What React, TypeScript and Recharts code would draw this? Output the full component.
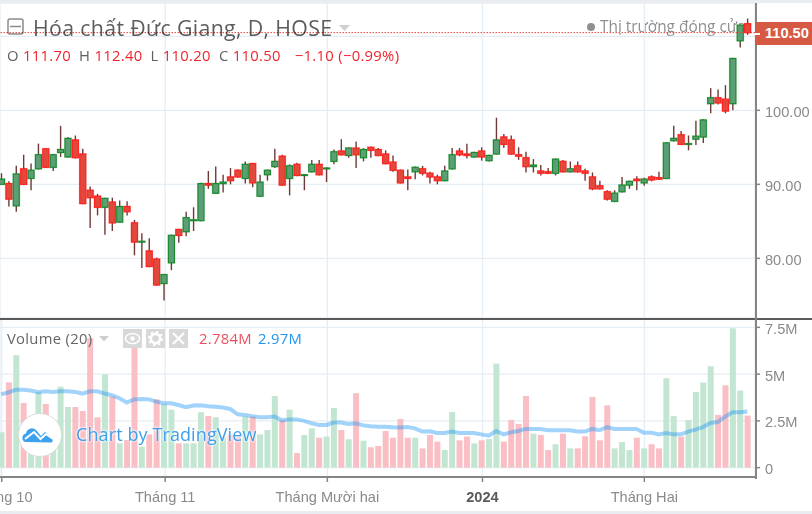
import { Bar, CartesianGrid, ComposedChart, Line, ReferenceLine, XAxis, YAxis } from "recharts";

const opens = [
  90.0, 90.1, 87.1, 92.1, 90.8, 92.1, 94.8, 92.3, 94.3, 93.7, 96.0, 94.1, 89.2, 88.4, 86.9, 87.6, 84.9, 87.0, 84.8, 82.2,
  81.0, 79.9, 76.6, 79.4, 83.9, 83.6, 85.1, 85.1, 90.1, 88.8, 90.1, 91.0, 91.9, 90.8, 92.8, 88.4, 91.3, 92.4, 93.8, 90.8,
  92.7, 91.2, 91.7, 92.7, 92.1, 93.1, 94.5, 93.9, 94.9, 93.6, 95.0, 94.7, 94.1, 93.0, 91.9, 91.0, 91.7, 92.1, 91.5, 91.0,
  90.5, 92.1, 94.5, 94.1, 93.7, 94.5, 93.2, 94.1, 96.4, 96.0, 94.0, 93.6, 92.4, 91.8, 91.7, 91.5, 93.1, 91.7, 92.5, 91.8,
  91.0, 89.8, 89.0, 87.7, 89.0, 89.9, 90.7, 90.2, 91.0, 90.9, 90.8, 95.9, 96.7, 95.4, 96.1, 96.4, 100.9, 101.7, 101.5, 100.9,
  109.4, 111.7,
];
const highs = [
  91.5, 90.4, 92.5, 94.0, 92.8, 95.5, 94.9, 94.1, 97.9, 96.4, 96.6, 94.8, 89.7, 88.7, 88.2, 88.2, 87.8, 87.7, 85.2, 83.4,
  82.7, 80.1, 77.9, 83.2, 84.0, 86.3, 86.9, 90.2, 91.8, 92.4, 91.3, 92.2, 92.0, 93.1, 92.9, 91.3, 92.0, 94.8, 94.0, 92.7,
  92.9, 91.4, 93.3, 93.3, 92.3, 94.7, 96.1, 95.0, 95.8, 94.9, 95.1, 94.9, 94.6, 93.9, 92.0, 92.0, 92.4, 92.5, 91.7, 91.3,
  92.5, 94.9, 94.9, 95.5, 94.4, 95.0, 94.0, 99.0, 96.8, 96.6, 95.0, 94.4, 93.4, 92.6, 92.2, 93.5, 93.3, 93.1, 93.1, 92.1,
  91.6, 90.5, 89.2, 89.2, 91.0, 90.5, 91.1, 90.9, 91.2, 91.7, 95.7, 97.9, 97.2, 96.6, 98.6, 98.8, 103.0, 102.8, 103.4, 107.1,
  111.6, 112.4,
];
const lows = [
  90.0, 87.0, 86.3, 89.9, 89.2, 92.0, 92.2, 91.8, 93.7, 93.6, 93.5, 87.3, 84.1, 85.8, 83.2, 83.7, 84.8, 85.8, 80.4, 78.7,
  78.8, 76.3, 74.3, 78.4, 82.1, 83.0, 83.7, 85.0, 89.4, 88.7, 88.9, 90.0, 90.9, 90.1, 89.6, 88.3, 90.5, 92.2, 89.8, 88.5,
  91.1, 89.2, 91.6, 91.2, 90.3, 92.7, 93.9, 93.6, 92.2, 93.1, 93.6, 93.8, 92.7, 91.7, 90.1, 89.2, 90.7, 91.2, 90.1, 90.0,
  90.4, 92.0, 93.8, 93.5, 93.6, 93.2, 93.1, 94.0, 94.9, 94.0, 93.3, 91.6, 91.6, 91.2, 91.4, 91.2, 91.6, 91.6, 91.6, 90.5,
  89.2, 89.3, 87.8, 87.6, 88.9, 89.4, 89.2, 89.8, 90.4, 90.6, 90.7, 95.8, 95.3, 94.6, 95.3, 95.6, 99.6, 100.8, 99.6, 100.0,
  108.5, 110.2,
];
const closes = [
  90.7, 88.0, 91.4, 90.0, 91.9, 94.0, 92.3, 94.0, 94.7, 96.2, 93.6, 87.4, 88.2, 86.9, 88.1, 84.8, 87.0, 86.3, 82.2, 82.3,
  78.9, 76.4, 77.8, 83.1, 83.1, 85.5, 85.2, 90.1, 89.9, 90.1, 90.3, 90.5, 91.0, 92.7, 90.2, 90.3, 91.9, 93.1, 89.9, 92.5,
  91.2, 91.3, 92.7, 91.3, 92.2, 94.4, 94.0, 94.9, 94.0, 94.7, 94.6, 93.9, 92.8, 91.9, 90.2, 90.8, 92.3, 91.5, 91.0, 90.5,
  91.8, 94.0, 94.0, 93.9, 94.3, 93.7, 93.9, 96.0, 95.4, 94.1, 93.8, 92.4, 92.6, 91.5, 91.5, 93.4, 91.7, 92.1, 91.7, 91.5,
  89.4, 89.4, 88.0, 88.8, 89.9, 90.4, 90.5, 90.7, 90.6, 90.7, 95.6, 96.2, 95.4, 95.5, 96.5, 98.7, 101.7, 101.0, 99.9, 107.0,
  111.5, 110.5,
];
const volumes = [
  1.89, 4.56, 6.01, 3.46, 2.28, 4.03, 3.4, 2.19, 4.33, 3.24, 3.24, 3.03, 6.92, 2.69, 4.99, 3.8, 1.3, 1.48, 6.65, 1.12,
  1.78, 3.65, 3.39, 3.1, 1.3, 1.3, 1.3, 2.96, 2.76, 2.69, 1.66, 1.75, 1.66, 2.73, 2.73, 1.78, 2.01, 3.83, 2.55, 3.1,
  0.78, 1.75, 2.1, 1.6, 1.66, 3.19, 2.01, 1.52, 3.98, 1.44, 1.09, 1.16, 1.96, 1.6, 2.6, 1.6, 1.6, 1.03, 1.75, 1.39,
  0.94, 2.98, 1.46, 1.66, 1.3, 1.46, 1.53, 5.56, 1.39, 2.55, 2.34, 3.83, 1.82, 1.75, 0.94, 1.25, 1.82, 1.03, 1.03, 1.68,
  3.78, 1.46, 3.33, 1.03, 1.37, 0.94, 1.6, 1.03, 1.25, 1.03, 4.78, 2.76, 1.66, 2.55, 4.05, 4.55, 5.42, 2.82, 4.4, 7.45,
  4.12, 2.784,
];
const volumeMa = [
  3.92, 4.03, 4.17, 4.17, 4.12, 4.03, 4.08, 4.05, 4.08, 4.08, 4.05, 3.96, 4.08, 4.08, 3.96, 3.87, 3.71, 3.48, 3.65, 3.67,
  3.65, 3.53, 3.44, 3.44, 3.35, 3.23, 3.32, 3.33, 3.28, 3.26, 3.21, 3.14, 2.85, 2.82, 2.75, 2.69, 2.69, 2.73, 2.53, 2.58,
  2.58, 2.5, 2.37, 2.28, 2.28, 2.41, 2.41, 2.34, 2.37, 2.26, 2.21, 2.19, 2.19, 2.16, 2.14, 2.17, 2.1, 1.93, 1.94, 1.85,
  1.85, 1.93, 1.85, 1.85, 1.85, 1.78, 1.71, 1.96, 1.78, 1.89, 1.96, 2.07, 2.07, 2.07, 2.0, 2.0, 2.0, 2.0, 1.93, 1.93,
  2.07, 2.0, 2.17, 2.07, 2.07, 2.07, 2.07, 1.87, 1.87, 1.78, 1.85, 1.78, 1.78, 1.93, 2.03, 2.17, 2.39, 2.44, 2.73, 2.96,
  2.96, 3.0,
];

const monthTicks = [0.07, 22.2, 44.15, 65.15, 87.06];
const monthLabels = ["Tháng 10", "Tháng 11", "Tháng Mười hai", "2024", "Tháng Hai"];
const priceTicks = [80, 90, 100, 110];
const volumeTicks = [0, 2.5, 5, 7.5];
const volumeTickLabels = ["0", "2.5M", "5M", "7.5M"];

const xDomain = [-0.162, 102.04];
const lastClose = 110.5;

const UP_BODY = "#5c9e76";
const UP_EDGE = "#188a2c";
const DOWN_BODY = "#e0493c";
const DOWN_EDGE = "#ff1f1f";
const WICK = "#6e3a36";
const GRID = "#e6eef5";
const AXIS = "#858585";
const AXIS_TEXT = "#8a8a8a";
const FONT = "'Open Sans', sans-serif";
const AXIS_FONT = "'Liberation Sans', Arial, sans-serif";

const rows = opens.map((open, i) => ({
  i,
  open,
  high: highs[i],
  low: lows[i],
  close: closes[i],
  volume: volumes[i],
  ma: volumeMa[i],
}));

/** Wick and body are worked out from the bar's own pixel range (low to high). */
function Candle(props: any) {
  const { x, y, width, height, payload } = props;
  const up = payload.close >= payload.open;
  const perUnit = height / (payload.high - payload.low);
  const top = y + (payload.high - Math.max(payload.open, payload.close)) * perUnit;
  const bodyHeight = Math.max(Math.abs(payload.open - payload.close) * perUnit, 0.6);
  const cx = x + width / 2;
  const edge = up ? UP_EDGE : DOWN_EDGE;
  return (
    <g>
      <line x1={cx} x2={cx} y1={y} y2={y + height} stroke={WICK} strokeWidth={1.4} />
      <rect x={x} y={top} width={width} height={bodyHeight} fill="none" stroke={edge} strokeOpacity={0.25} strokeWidth={2} />
      <rect x={x} y={top} width={width} height={bodyHeight} fill={up ? UP_BODY : DOWN_BODY} stroke={edge} strokeWidth={1.1} />
    </g>
  );
}

function VolumeBar(props: any) {
  const { x, y, width, height, payload } = props;
  const fill = payload.close >= payload.open ? "#c2e6d2" : "#f9bfc5";
  return <rect x={x} y={y} width={width} height={height} fill={fill} />;
}

function PriceTick(props: any) {
  const { x, y, payload } = props;
  // the 110 tick sits under the last price tag
  if (payload.value === 110) return null;
  return (
    <g>
      <line x1={x} x2={x + 5} y1={y} y2={y} stroke={AXIS} strokeWidth={1.5} />
      <text x={x + 10} y={y + 6.5} fill={AXIS_TEXT} fontSize={14.6} fontFamily={AXIS_FONT}>
        {payload.value.toFixed(2)}
      </text>
    </g>
  );
}

function VolumeTick(props: any) {
  const { x, y, payload } = props;
  return (
    <g>
      <line x1={x} x2={x + 5} y1={y} y2={y} stroke={AXIS} strokeWidth={1.5} />
      <text x={x + 10} y={y + 6.5} fill={AXIS_TEXT} fontSize={14.6} fontFamily={AXIS_FONT}>
        {volumeTickLabels[volumeTicks.indexOf(payload.value)]}
      </text>
    </g>
  );
}

function TimeTick(props: any) {
  const { x, y, payload } = props;
  const label = monthLabels[monthTicks.indexOf(payload.value)];
  const bold = label === "2024";
  return (
    <g>
      <line x1={x} x2={x} y1={y} y2={y + 5} stroke={AXIS} strokeWidth={1.5} />
      <text
        x={x}
        y={y + 25}
        textAnchor="middle"
        fill={bold ? "#5a5a5a" : AXIS_TEXT}
        fontWeight={bold ? 700 : 400}
        fontSize={14.6}
        fontFamily={AXIS_FONT}
      >
        {label}
      </text>
    </g>
  );
}

function IconButton({ left, children }: { left: number; children: any }) {
  return (
    <svg width={19} height={19} style={{ position: "absolute", left, top: 329, background: "#d8d8d8" }}>
      {children}
    </svg>
  );
}

const textBase: any = { position: "absolute", whiteSpace: "nowrap", fontFamily: FONT };

export default function App() {
  return (
    <div
      style={{
        position: "absolute",
        left: 0,
        top: 0,
        width: 812,
        height: 514,
        overflow: "hidden",
        background: "#fff",
        filter: "blur(0.35px)",
      }}
    >
      {/* Status text sits behind the candles */}
      <div style={{ position: "absolute", left: 587, top: 23, width: 8, height: 8, borderRadius: 4, background: "#8f8f8f" }} />
      <div style={{ ...textBase, left: 600, top: 16, fontSize: 15.4, color: "#8f8f8f" }}>Thị trường đóng cửa</div>

      <div style={{ position: "absolute", left: 0, top: 0, width: 812 }}>
        <ComposedChart width={812} height={318} data={rows} margin={{ top: 3, right: 0, bottom: 0, left: 0 }}>
          <CartesianGrid stroke={GRID} strokeWidth={1.3} />
          <XAxis dataKey="i" type="number" domain={xDomain} allowDataOverflow ticks={monthTicks} hide />
          <YAxis
            orientation="right"
            width={57}
            domain={[71.94, 114.5]}
            allowDataOverflow
            ticks={priceTicks}
            interval={0}
            tick={<PriceTick />}
            tickSize={0}
            tickMargin={0}
            tickLine={false}
            axisLine={false}
          />
          <ReferenceLine y={lastClose} stroke="#e8453c" strokeDasharray="1.5 1.5" strokeWidth={1} />
          <Bar dataKey={(d: any) => [d.low, d.high]} barSize={6} shape={<Candle />} isAnimationActive={false} />
        </ComposedChart>
      </div>

      {/* Legend over the chart, multiplied so grid and price line still show through */}
      <svg width={18} height={18} style={{ position: "absolute", left: 7, top: 18, mixBlendMode: "multiply" }}>
        <rect x={1} y={1} width={15} height={15} rx={2} fill="#fff" stroke="#8a8a8a" strokeWidth={1.5} />
        <line x1={3} x2={14} y1={8.5} y2={8.5} stroke="#8a8a8a" strokeWidth={1.5} />
      </svg>
      <div style={{ ...textBase, left: 33, top: 13, fontSize: 21.3, color: "#5d5d5d", letterSpacing: 0.35, mixBlendMode: "multiply" }}>
        Hóa chất Đức Giang, D, HOSE
      </div>
      <svg width={12} height={7} style={{ position: "absolute", left: 339, top: 25 }}>
        <path d="M0 0 L11 0 L5.5 6 Z" fill="#cfcfcf" />
      </svg>
      <div style={{ ...textBase, left: 7, top: 45, fontSize: 14.8, color: "#f0242c", letterSpacing: 0.3 }}>
        <span style={{ color: "#606060" }}>O</span> 111.70 <span style={{ color: "#606060", marginLeft: 4 }}>H</span> 112.40{" "}
        <span style={{ color: "#606060", marginLeft: 4 }}>L</span> 110.20 <span style={{ color: "#606060", marginLeft: 4 }}>C</span>{" "}
        110.50 <span style={{ marginLeft: 10 }}>−1.10 (−0.99%)</span>
      </div>

      <div style={{ position: "absolute", left: 0, top: 318, width: 812 }}>
        <ComposedChart width={812} height={196} data={rows} margin={{ top: 0, right: 0, bottom: 0, left: 0 }}>
          <CartesianGrid stroke={GRID} strokeWidth={1.3} />
          <XAxis
            dataKey="i"
            type="number"
            domain={xDomain}
            allowDataOverflow
            ticks={monthTicks}
            interval={0}
            height={37}
            tick={<TimeTick />}
            tickSize={0}
            tickMargin={0}
            tickLine={false}
            axisLine={{ stroke: AXIS, strokeWidth: 2 }}
          />
          <YAxis
            orientation="right"
            width={57}
            domain={[-0.5, 8]}
            allowDataOverflow
            ticks={volumeTicks}
            interval={0}
            tick={<VolumeTick />}
            tickSize={0}
            tickMargin={0}
            tickLine={false}
            axisLine={false}
          />
          <Bar dataKey="volume" barSize={6} shape={<VolumeBar />} isAnimationActive={false} />
          <Line
            dataKey="ma"
            type="linear"
            stroke="#2196f3"
            strokeOpacity={0.42}
            strokeWidth={4}
            dot={false}
            activeDot={false}
            isAnimationActive={false}
          />
        </ComposedChart>
      </div>

      {/* Frame */}
      <div style={{ position: "absolute", left: 0, top: 0, width: 812, height: 3, background: "#e9edf0" }} />
      <div style={{ position: "absolute", left: 0, top: 511, width: 812, height: 3, background: "#e9edf0" }} />
      <div style={{ position: "absolute", left: 0, top: 318, width: 812, height: 1.5, background: "#5a5a5a" }} />
      <div style={{ position: "absolute", left: 754.5, top: 3, width: 2, height: 476, background: AXIS }} />

      {/* Last price tag */}
      <div
        style={{
          ...textBase,
          left: 755,
          top: 22,
          width: 57,
          height: 23,
          background: "#d65a43",
          color: "#fff",
          fontFamily: AXIS_FONT,
          fontSize: 14.6,
          fontWeight: 700,
          lineHeight: "23px",
          paddingLeft: 10,
          boxSizing: "border-box",
        }}
      >
        110.50
      </div>
      <div style={{ position: "absolute", left: 755, top: 33, width: 5, height: 1.5, background: "#fff" }} />

      {/* Volume legend */}
      <div style={{ ...textBase, left: 7, top: 328, fontSize: 14.8, color: "#666", letterSpacing: 0.3 }}>Volume (20)</div>
      <svg width={11} height={6} style={{ position: "absolute", left: 99, top: 336 }}>
        <path d="M0 0 L10 0 L5 5.5 Z" fill="#cfcfcf" />
      </svg>
      <IconButton left={123}>
        <ellipse cx={9.5} cy={9.5} rx={7} ry={5} fill="none" stroke="#fff" strokeWidth={1.5} />
        <circle cx={9.5} cy={9.5} r={2.2} fill="#fff" />
      </IconButton>
      <IconButton left={146}>
        <circle cx={9.5} cy={9.5} r={4.6} fill="none" stroke="#fff" strokeWidth={2.6} />
        <circle cx={9.5} cy={9.5} r={6.6} fill="none" stroke="#fff" strokeWidth={2} strokeDasharray="2.4 2.8" />
      </IconButton>
      <IconButton left={169}>
        <path d="M4 4 L15 15 M15 4 L4 15" stroke="#fff" strokeWidth={2} />
      </IconButton>
      <div style={{ ...textBase, left: 199, top: 328, fontSize: 14.8, color: "#ef4f5e", letterSpacing: 0.3 }}>2.784M</div>
      <div style={{ ...textBase, left: 258, top: 328, fontSize: 14.8, color: "#2196f3", letterSpacing: 0.3 }}>2.97M</div>

      {/* TradingView badge */}
      <svg width={46} height={46} style={{ position: "absolute", left: 16.5, top: 412 }}>
        <circle cx={23} cy={23} r={21.5} fill="#fff" stroke="#dcdcdc" strokeWidth={1} />
        <path
          d="M8 30 a4.5 4.5 0 0 1 1 -8.5 a6 6 0 0 1 10 -3.5 l5 6 l4 -4 l5 4 a4.5 4.5 0 0 1 2 6.5 Z"
          fill="#3da2ee"
        />
        <path d="M8 27 L17 20 L23.5 27 L29 22 L36 27" fill="none" stroke="#fff" strokeWidth={2} />
      </svg>
      <div
        style={{
          ...textBase,
          left: 76,
          top: 422,
          fontSize: 18,
          color: "#3f9fec",
          letterSpacing: 0.1,
          textShadow: "0 0 3px #fff, 0 0 3px #fff",
        }}
      >
        Chart by TradingView
      </div>
    </div>
  );
}
